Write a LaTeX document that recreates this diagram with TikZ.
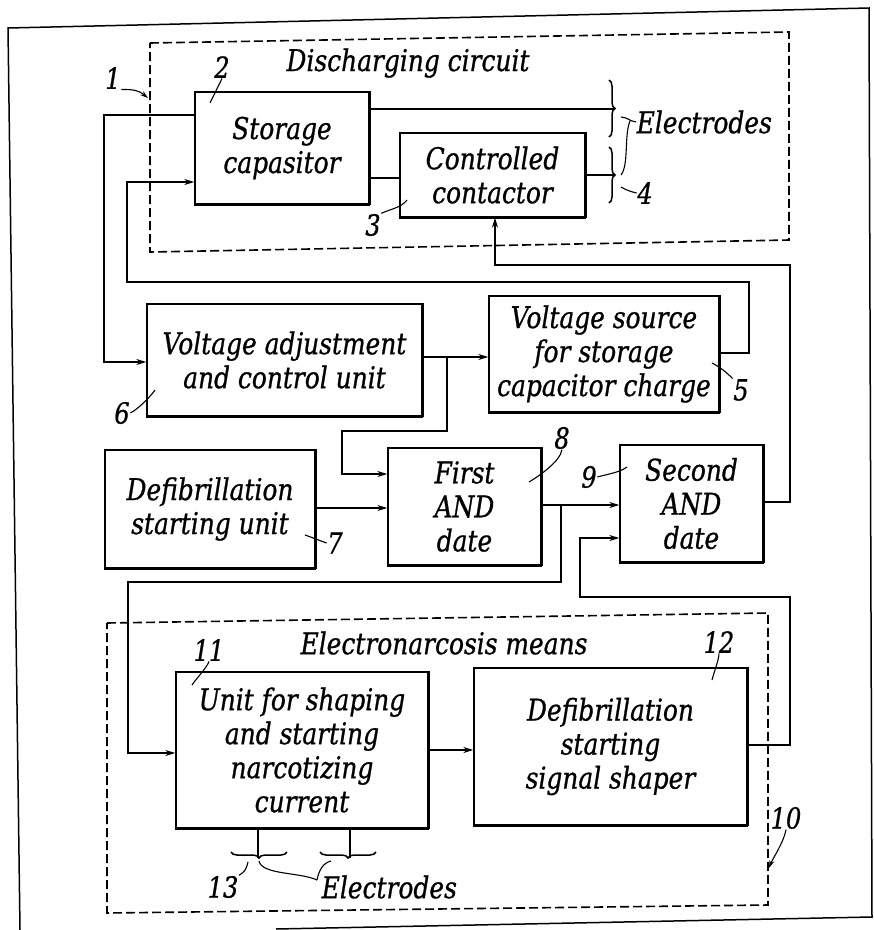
\documentclass[tikz,border=0pt]{standalone}
\usepackage{fontspec}
\setmainfont{DejaVu Serif}[FakeStretch=0.83, FakeBold=0.8]
\usetikzlibrary{arrows.meta,decorations.pathreplacing}
\newcommand\bxfont{\fontsize{30}{34}\selectfont\itshape}
\newcommand\lbfont{\fontsize{29}{30}\selectfont\itshape}
\begin{document}
\begin{tikzpicture}[x=1pt,y=-1pt,
  line width=1.4pt,
  bx/.style n args={2}{draw, line width=1.4pt, minimum width=#1pt, minimum height=#2pt, inner sep=0pt, align=center, font=\bxfont},
  lbl/.style={inner sep=0pt, font=\lbfont},
  txt/.style={inner sep=0pt, font=\bxfont},
  arr/.style={-{Stealth[length=10pt,width=6pt]}},
  dbox/.style={dash pattern=on 9pt off 4pt, line width=1.6pt},
  ldr/.style={line width=1.1pt},
  brc/.style={decorate, decoration={brace, amplitude=6pt}, line width=1.5pt},
]
\useasboundingbox (0,0) rectangle (874,930);

% outer frame
\draw[line width=1.5pt] (20,930) -- (8,28) -- (869,8) -- (872,917) -- (276,929);

% dashed groups
\draw[dbox] (150,43) -- (789,32) -- (789,240) -- (150,252) -- cycle;
\draw[dbox] (107,623) -- (768,613) -- (768,905) -- (107,913) -- cycle;

% blocks
\node[bx={174}{112}] (sc) at (282,148) {Storage\\capasitor};
\node[bx={185}{84}] (cc) at (492.5,175) {Controlled\\contactor};
\node[bx={275}{112}] (va) at (284.5,360) {Voltage adjustment\\and control unit};
\node[bx={230}{116}] (vs) at (604,354) {Voltage source\\for storage\\capacitor charge};
\node[bx={210}{118}] (dsu) at (210,509) {Defibrillation\\starting unit};
\node[bx={153}{117}] (fa) at (464.5,506.5) {First\\AND\\date};
\node[bx={143}{117}] (sa) at (691.5,503.5) {Second\\AND\\date};
\node[bx={252}{156}] (un) at (302,750) {Unit for shaping\\and starting\\narcotizing\\current};
\node[bx={273}{157}] (dss) at (610.5,746.5) {Defibrillation\\starting\\signal shaper};
\foreach \n in {sc,cc,va,vs,dsu,fa,sa,un,dss} {
  \draw[line width=3pt] ([xshift=-0.7pt]\n.south west) -- ([xshift=0.7pt]\n.south east);
  \draw[line width=2pt] (\n.north east) -- (\n.south east);
}

% titles
\node[txt] (t1) at (408,63) {Discharging circuit};
\node[txt] (t3) at (444,643) {Electronarcosis means};
\node[txt,anchor=west] (t2) at (636,122) {Electrodes};
\node[txt,anchor=west] (t4) at (321,887) {Electrodes};

% connectors
\coordinate (c1a) at (104,115); \coordinate (c1b) at (104,362);
\draw[arr] (sc.west |- c1a) -- (c1a) -- (c1b) -- (va.west |- c1b);

\coordinate (c2a) at (749,353); \coordinate (c2b) at (749,282);
\coordinate (c2c) at (127,282); \coordinate (c2d) at (127,182);
\draw[arr] (vs.east |- c2a) -- (c2a) -- (c2b) -- (c2c) -- (c2d) -- (sc.west |- c2d);

\coordinate (c3a) at (790,502); \coordinate (c3b) at (790,265); \coordinate (c3c) at (495,265);
\draw[arr] (sa.east |- c3a) -- (c3a) -- (c3b) -- (c3c) -- (c3c |- cc.south);

\coordinate (e1) at (615,109);
\draw (sc.east |- e1) -- (e1);
\coordinate (c5) at (0,178);
\draw (sc.east |- c5) -- (cc.west |- c5);
\coordinate (e2) at (615,175);
\draw (cc.east |- e2) -- (e2);

\coordinate (c7) at (447,357); \coordinate (c7b) at (447,431);
\coordinate (c7c) at (342,431); \coordinate (c7d) at (342,474);
\draw[arr] (va.east |- c7) -- (vs.west |- c7);
\draw[arr] (c7) -- (c7b) -- (c7c) -- (c7d) -- (fa.west |- c7d);

\coordinate (c8) at (0,508);
\draw[arr] (dsu.east |- c8) -- (fa.west |- c8);

\coordinate (c9) at (561,505); \coordinate (c9b) at (561,582);
\coordinate (c9c) at (128,582); \coordinate (c9d) at (128,753);
\draw[arr] (fa.east |- c9) -- (sa.west |- c9);
\draw[arr] (c9) -- (c9b) -- (c9c) -- (c9d) -- (un.west |- c9d);

\coordinate (c10a) at (790,745); \coordinate (c10b) at (790,597);
\coordinate (c10c) at (580,597); \coordinate (c10d) at (580,538);
\draw[arr] (dss.east |- c10a) -- (c10a) -- (c10b) -- (c10c) -- (c10d) -- (sa.west |- c10d);

\coordinate (c11) at (0,750);
\draw[arr] (un.east |- c11) -- (dss.west |- c11);

% electrodes of discharging circuit
\draw[brc] (609,80) -- (609,137);
\draw[brc] (609,147) -- (609,203);
\coordinate (ea) at (621,117); \coordinate (eb) at (630,121); \coordinate (ec) at (621,175);
\draw[ldr] (ea) .. controls (627,117) and (629,121) .. (t2.west);
\draw[ldr] (eb) .. controls (624,135) and (629,165) .. (ec);

% electrodes of narcosis unit
\coordinate (b1) at (258,858); \coordinate (b2) at (350,858);
\draw (un.south -| b1) -- (b1);
\draw (un.south -| b2) -- (b2);
\draw[brc] (287,852) -- (231,852);
\draw[brc] (376,852) -- (320,852);
\coordinate (bt1) at (259,861); \coordinate (bcusp) at (317,880); \coordinate (bt2) at (331,861);
\draw[ldr] (bt1) .. controls (262,875) and (300,872) .. (bcusp);
\draw[ldr] (bcusp) .. controls (319,870) and (323,863) .. (bt2);

% reference numerals
\node[lbl] (n1) at (113,78) {1};
\node[lbl] (n2) at (222,67) {2};
\node[lbl] (n3) at (373,225) {3};
\node[lbl] (n4) at (645,193) {4};
\node[lbl] (n5) at (741,390) {5};
\node[lbl] (n6) at (122,413) {6};
\node[lbl] (n7) at (335,543) {7};
\node[lbl] (n8) at (562,438) {8};
\node[lbl] (n9) at (589,477) {9};
\node[lbl] (n10) at (786,818) {10};
\node[lbl] (n11) at (209,650) {11};
\node[lbl] (n12) at (719,642) {12};
\node[lbl] (n13) at (223,887) {13};

\coordinate (l1) at (148,98);
\draw[ldr,-{Stealth[length=8pt,width=5pt]}] (n1.south east) .. controls +(12,0) and +(-10,-8) .. (l1);
\coordinate (l2) at (210,103);
\draw[ldr] (n2.south) -- (l2);
\coordinate (l3) at (407,200);
\draw[ldr] (n3.north east) .. controls +(8,-4) and +(-6,8) .. (l3);
\coordinate (l4) at (621,187);
\draw[ldr] (n4.west) .. controls +(-5,-1) and +(5,3) .. (l4);
\coordinate (l5) at (712,363);
\draw[ldr] (n5.north west) .. controls +(-6,-6) and +(8,4) .. (l5);
\coordinate (l6) at (155,390);
\draw[ldr] (n6.east) .. controls +(8,-4) and +(-4,6) .. (l6);
\coordinate (l7) at (305,535);
\draw[ldr] (n7.west) .. controls +(-6,-2) and +(6,2) .. (l7);
\coordinate (l8) at (529,482);
\draw[ldr] (n8.south) .. controls +(-2,12) and +(10,-6) .. (l8);
\coordinate (l9) at (627,467);
\draw[ldr] (n9.east) .. controls +(6,-2) and +(-8,6) .. (l9);
\coordinate (l10) at (769,868);
\draw[ldr,-{Stealth[length=8pt,width=5pt]}] (n10.south) .. controls +(-2,12) and +(4,-10) .. (l10);
\coordinate (l11) at (192,685);
\draw[ldr] (n11.south) .. controls +(-2,6) and +(4,-6) .. (l11);
\coordinate (l12) at (712,680);
\draw[ldr] (n12.south) .. controls +(0,6) and +(2,-8) .. (l12);
\coordinate (l13) at (248,862);
\draw[ldr] (n13.north east) .. controls +(6,-4) and +(-2,8) .. (l13);
\end{tikzpicture}
\end{document}
